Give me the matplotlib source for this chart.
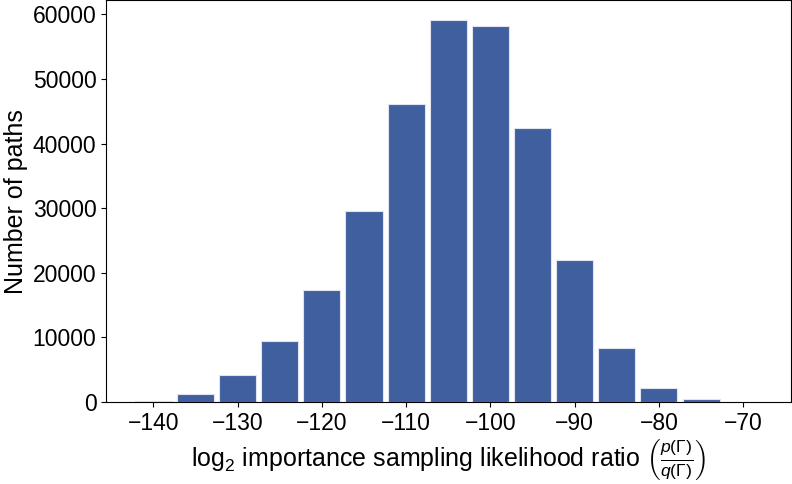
import matplotlib
matplotlib.use("Agg")
import matplotlib.pyplot as plt

# centres des classes (largeur 5) et nombre de chemins
centres = [-140, -135, -130, -125, -120, -115, -110, -105, -100, -95, -90, -85, -80, -75]
nb_chemins = [150, 1240, 4170, 9430, 17300, 29500, 46100, 59200, 58150, 42370, 21960, 8350, 2160, 460]
graduations_x = [-140, -130, -120, -110, -100, -90, -80, -70]
graduations_y = [0, 10000, 20000, 30000, 40000, 50000, 60000]

plt.rcParams['font.family'] = ['Liberation Sans', 'DejaVu Sans']
plt.rcParams['mathtext.fontset'] = 'custom'
plt.rcParams['mathtext.rm'] = 'Liberation Sans'
plt.rcParams['mathtext.it'] = 'Liberation Sans:italic'
plt.rcParams['mathtext.bf'] = 'Liberation Sans:bold'

fig = plt.figure(figsize=(7.92, 4.84), dpi=100)
ax = fig.add_axes([0.134, 0.1694, 0.865, 0.8296])

ax.bar(centres, nb_chemins, width=4.4, color="#3f5f9f", edgecolor="#dfe4ee", linewidth=0.8)

ax.set_xlim(-145.6, -64.3)
ax.set_ylim(0, max(nb_chemins) * 1.05)
ax.set_xticks(graduations_x)
ax.set_yticks(graduations_y)
ax.tick_params(labelsize=16.5)
ax.set_ylabel("Number of paths", fontsize=18, labelpad=3)
ax.set_xlabel(r"log$_2$ importance sampling likelihood ratio $\left(\frac{p(\Gamma)}{q(\Gamma)}\right)$",
              fontsize=18, labelpad=2)

plt.savefig("out.png")
